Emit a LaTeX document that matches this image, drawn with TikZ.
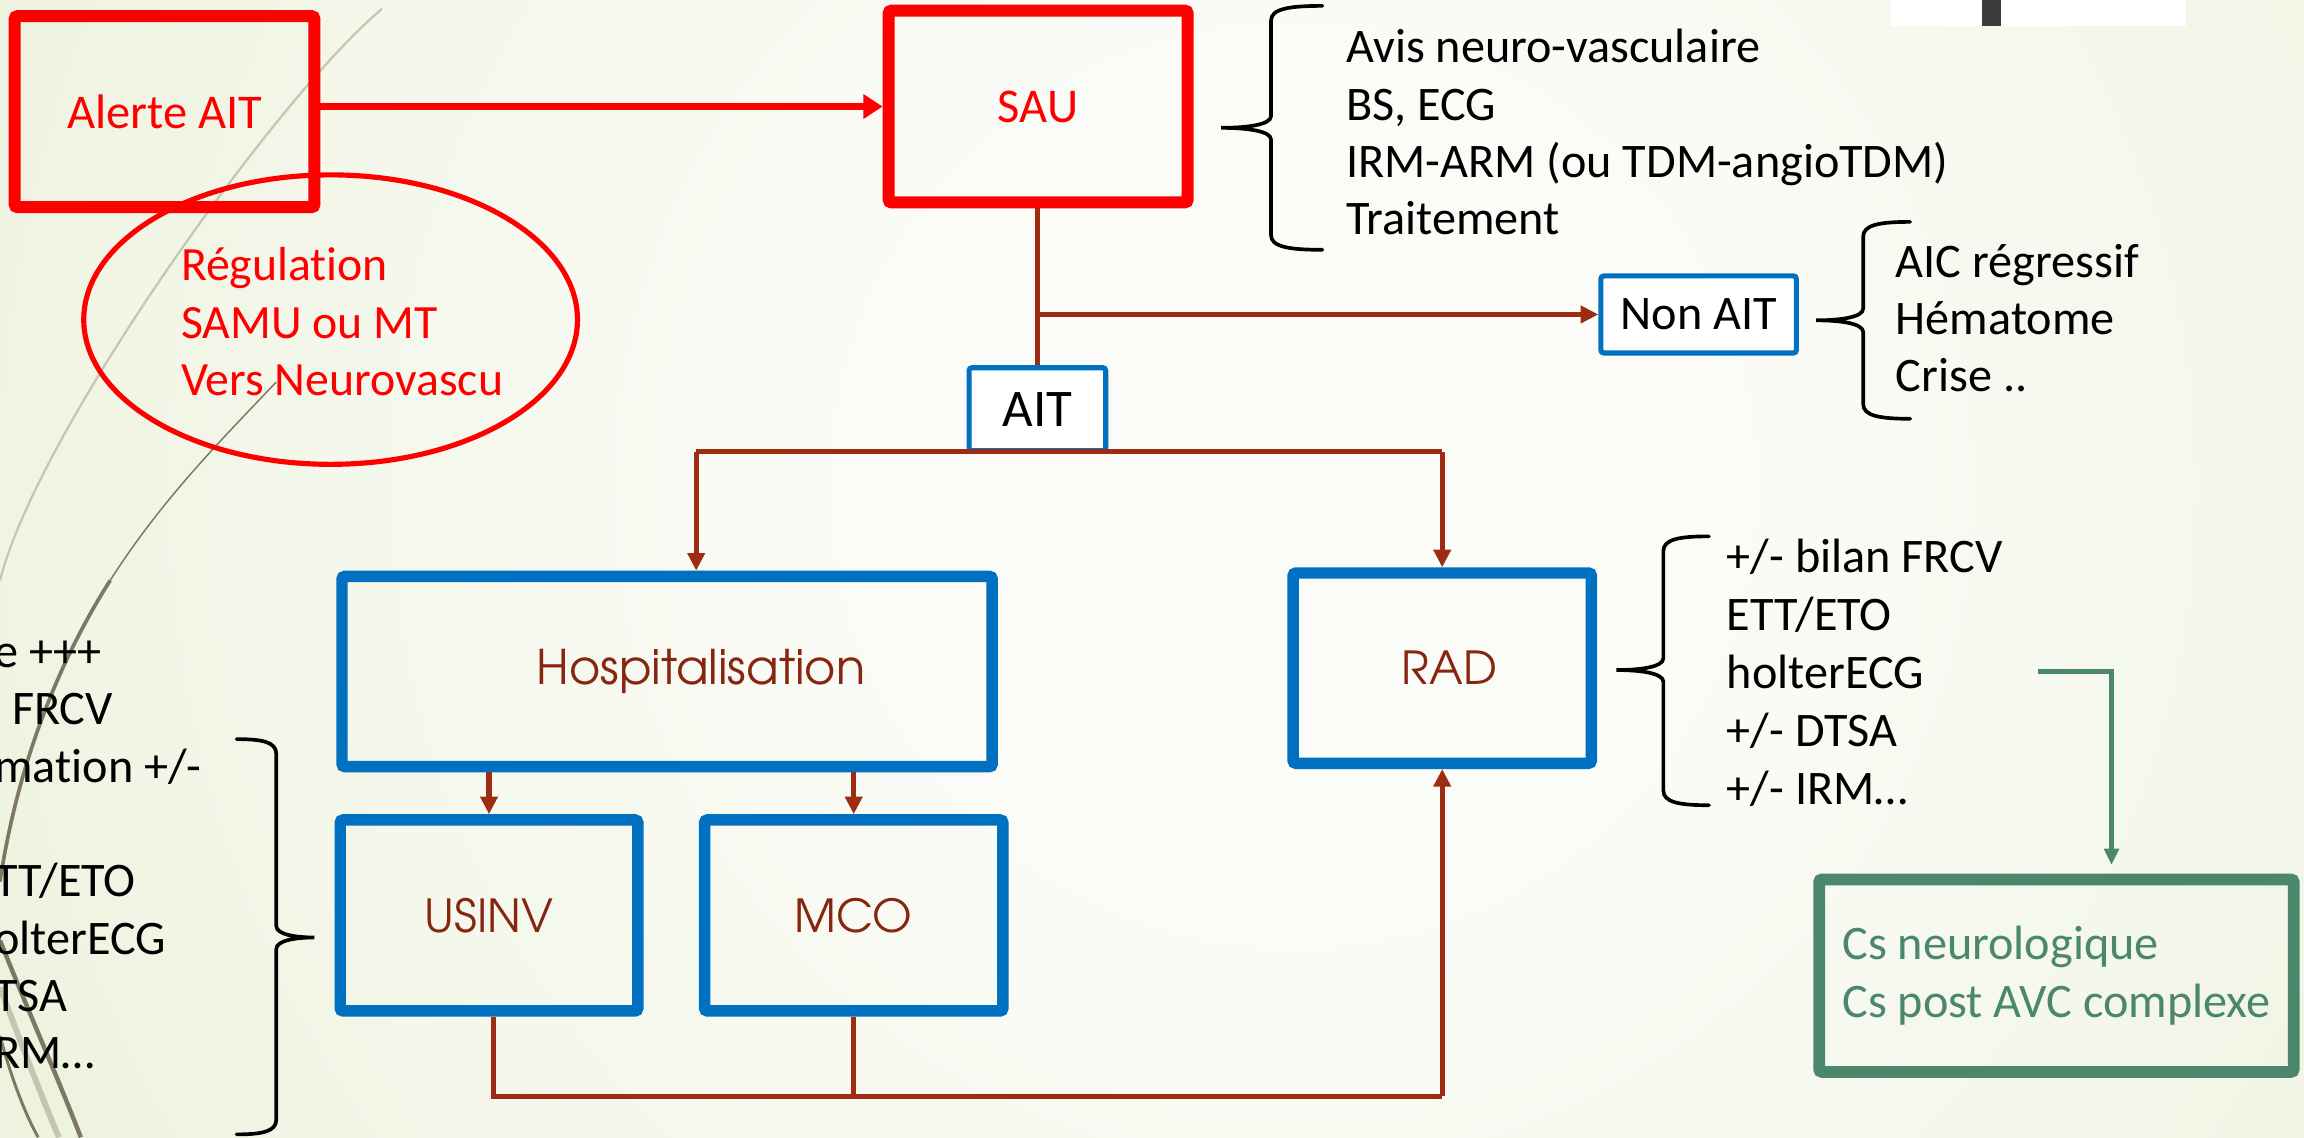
\documentclass[tikz,border=0pt]{standalone}
\usepackage{fontspec}
\setmainfont[Ligatures=NoCommon]{Carlito}
\newfontfamily\gothic{texgyreadventor-regular.otf}
\usetikzlibrary{shapes.geometric,arrows.meta}

\definecolor{myred}{RGB}{255,0,0}
\definecolor{myblue}{RGB}{0,112,192}
\definecolor{brn}{RGB}{158,44,18}
\definecolor{brntxt}{RGB}{135,38,16}
\definecolor{grn}{RGB}{74,135,108}
\definecolor{bgin}{RGB}{251,252,248}
\definecolor{bgout}{RGB}{212,225,176}
\definecolor{wispdark}{RGB}{125,120,95}
\definecolor{wisplight}{RGB}{196,199,176}
\definecolor{bardark}{RGB}{58,61,60}

\pgfdeclareradialshading{bgshade}{\pgfpoint{0bp}{0bp}}{color(0bp)=(bgin); color(6bp)=(bgin); color(50bp)=(bgout)}

% #1 tip x, #2 vertical x, #3 end x, #4 top y, #5 tip y, #6 bottom y
\newcommand\mybrace[6]{%
  \draw[bracestyle] (#3,#4) .. controls ({#2+0.35*(#3-#2)},#4) and (#2,{#4+2}) .. (#2,{#4+10})
    -- (#2,{#5-8}) .. controls (#2,{#5-2}) and ({#1+0.5*(#2-#1)},#5) .. (#1,#5)
    .. controls ({#1+0.5*(#2-#1)},#5) and (#2,{#5+2}) .. (#2,{#5+8})
    -- (#2,{#6-10}) .. controls (#2,{#6-2}) and ({#2+0.35*(#3-#2)},#6) .. (#3,#6);}

\tikzset{
  base/.style={inner sep=0pt, rounded corners=2pt},
  redbox/.style={base, draw=myred, line width=8.2pt, text=myred, font=\fontsize{33}{38}\selectfont},
  bluebox/.style={base, draw=myblue, line width=7.8pt, text=brntxt, font=\gothic\fontsize{31}{38}\selectfont},
  smallbox/.style={base, draw=myblue, line width=3.5pt, fill=white, text=black, font=\fontsize{32.8}{38}\selectfont},
  greenbox/.style={base, draw=grn, line width=8pt, text=grn, font=\fontsize{32.8}{39}\selectfont},
  listtxt/.style={anchor=west, align=left, inner sep=0pt, text=black, font=\fontsize{32.8}{39}\selectfont},
  conn/.style={draw=brn, line width=3.5pt},
  connarrow/.style={conn, -{Triangle[length=12pt,width=11.5pt]}},
  redarrow/.style={draw=myred, line width=4.5pt, -{Triangle[length=13pt,width=16pt]}},
  garrow/.style={draw=grn, line width=2.8pt, -{Triangle[length=11pt,width=10pt]}},
  bracestyle/.style={draw=black, line width=2.5pt, line cap=round},
}

\begin{document}
\begin{tikzpicture}[x=1pt,y=-1pt]
\useasboundingbox (0,0) rectangle (1568,774);
\begin{scope}
  \clip (0,0) rectangle (1568,774);
  \shade[shading=bgshade] (880,330) circle [radius=1150pt];
  % decorative wisps
  \draw[wisplight, line width=1.5pt] (260,6) .. controls (188,66) and (25,295) .. (0,395);
  \draw[wispdark, line width=1pt] (188,260) .. controls (150,300) and (110,340) .. (75,395);
  \draw[wispdark, line width=2.5pt] (75,395) .. controls (40,450) and (12,520) .. (0,600);
  \draw[wispdark, line width=3pt] (0,640) .. controls (20,690) and (40,735) .. (55,774);
  \draw[wisplight, line width=4pt] (0,672) .. controls (15,712) and (30,750) .. (40,774);
  \draw[wispdark, line width=2pt] (0,705) .. controls (8,735) and (18,760) .. (26,774);
  % top-right fragment
  \fill[white] (1287,0) rectangle (1488,17.5);
  \fill[bardark] (1349,0) rectangle (1362,17.5);
\end{scope}

% nodes
\node[redbox, minimum width=204pt, minimum height=130pt] (alerte) at (112,76) {Alerte AIT};
\node[redbox, minimum width=203.5pt, minimum height=130.5pt] (sau) at (706.5,72.5) {SAU};
\node[ellipse, draw=myred, line width=3.5pt, minimum width=336pt, minimum height=197pt, inner sep=0pt] (reg) at (225,217.5) {};
\node[anchor=west, align=left, inner sep=0pt, text=myred, font=\fontsize{32.5}{39.3}\selectfont] (regtxt) at (123,219) {Régulation\\SAMU ou MT\\Vers Neurovascu};

\node[smallbox, minimum width=133pt, minimum height=52.5pt] (nonait) at (1156,214) {Non AIT};
\node[smallbox, minimum width=93pt, minimum height=56.5pt, font=\fontsize{36}{38}\selectfont] (ait) at (706,278.5) {AIT};

\node[bluebox, minimum width=442.5pt, minimum height=129.5pt, font=\gothic\fontsize{32.5}{38}\selectfont] (hosp) at (454,457) {\hspace*{46pt}Hospitalisation};
\node[bluebox, minimum width=203pt, minimum height=129.5pt] (rad) at (981.5,454.7) {\hspace*{10pt}RAD};
\node[bluebox, minimum width=202.5pt, minimum height=130pt] (usinv) at (332.8,623) {USINV};
\node[bluebox, minimum width=203pt, minimum height=130pt] (mco) at (581,623) {MCO};

\node[greenbox, minimum width=323pt, minimum height=131pt, align=left] (cs) at (1399.5,664) {Cs neurologique\\Cs post AVC complexe};

% text lists
\node[listtxt] (sautxt) at (916,90) {Avis neuro-vasculaire\\BS, ECG\\IRM-ARM (ou TDM-angioTDM)\\Traitement};
\node[listtxt] (nontxt) at (1290,216.6) {AIC régressif\\Hématome\\Crise ..};
\node[listtxt, font=\fontsize{32.8}{39.5}\selectfont] (radtxt) at (1175,458) {+/- bilan FRCV\\ETT/ETO\\holterECG\\+/- DTSA\\+/- IRM…};
\node[listtxt] (lefttxt) at (-4,582) {e +++\\\hspace*{12pt}FRCV\\mation +/-\\\mbox{}\\TT/ETO\\olterECG\\TSA\\RM…};

% braces
\mybrace{831}{865}{900}{4}{87}{170}
\mybrace{1236}{1268}{1300}{151}{218}{285}
\mybrace{1100}{1132}{1163}{365}{456}{548}
\mybrace{214}{188}{161}{503}{638}{772}

% connectors
\draw[redarrow] (alerte.east |- sau.west) -- (sau.west);
\draw[conn] (sau.south -| ait.north) -- (ait.north);
\coordinate (br) at (706,214);
\draw[connarrow] (br) -- (nonait.west);
\coordinate (hl) at (473.8,307.5);
\coordinate (hr) at (981.5,307.5);
\draw[conn] (hl) -- (hr);
\draw[connarrow] (hl) -- (hl |- hosp.north);
\draw[connarrow] (hr) -- (rad.north);
\draw[connarrow] (usinv.north |- hosp.south) -- (usinv.north);
\draw[connarrow] (mco.north |- hosp.south) -- (mco.north);
\coordinate (bl) at (336,746);
\coordinate (bre) at (981.5,746);
\draw[conn] (bl |- usinv.south) -- (bl) -- (bre);
\draw[conn] (mco.south) -- (mco.south |- bl);
\draw[connarrow] (bre) -- (rad.south);
\coordinate (g0) at (1387,457);
\coordinate (g1) at (1437,457);
\draw[garrow, shorten >=6pt] (g0) -- (g1) -- (g1 |- cs.north);
\end{tikzpicture}
\end{document}
